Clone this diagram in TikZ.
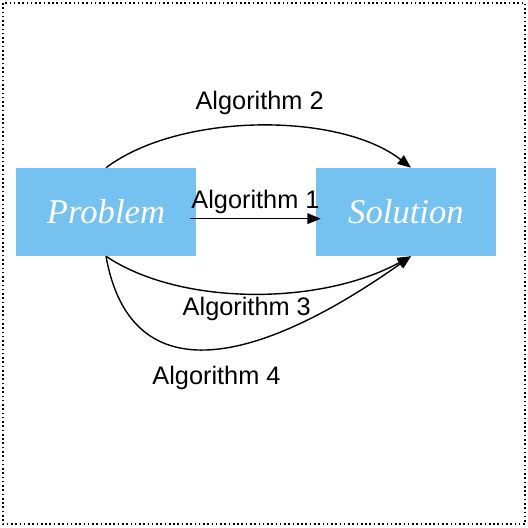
\documentclass[tikz,border=0pt]{standalone}
\usepackage{fontspec}
\newfontfamily\labelfont{Liberation Sans}
\newfontfamily\boxfont{Liberation Serif}
\usetikzlibrary{arrows.meta}
\definecolor{boxblue}{HTML}{75C1F0}
\tikzset{
    box/.style={fill=boxblue, minimum width=135pt, minimum height=66pt, inner sep=0pt,
        text=white, font=\boxfont\fontsize{26}{29}\selectfont\itshape},
    algo/.style={-{Triangle[length=10pt,width=8pt]}, line width=1.05pt},
    lbl/.style={font=\labelfont\fontsize{19}{22}\selectfont, inner sep=0pt}
}
\begin{document}
\begin{tikzpicture}[x=0.75pt, y=-0.75pt]
        \useasboundingbox (0,0) rectangle (528,528);
        \draw[dotted, line width=1.2pt] (3,3) rectangle (525,524);

        \node[box] (prob) at (106,212) {Problem};
        \node[box] (sol) at (406,212) {Solution};

        \draw[algo] ([xshift=-4.5pt,yshift=-5pt]prob.east) -- node[lbl, above=3pt] {Algorithm 1} ([xshift=3.75pt,yshift=-5pt]sol.west);
        \draw[algo] (prob.north) .. controls (180,112) and (340,112) .. node[lbl, above=8pt] {Algorithm 2} ([xshift=3.75pt]sol.north);
        \draw[algo] (prob.south) .. controls (180,306) and (320,306) .. node[lbl, below=2pt, xshift=-4pt] {Algorithm 3} ([xshift=3.75pt]sol.south);
        \draw[algo] (prob.south) .. controls (130,390) and (250,370) .. node[lbl, below=12pt, xshift=7pt] {Algorithm 4} ([xshift=3.75pt]sol.south);
    \end{tikzpicture}
\end{document}
